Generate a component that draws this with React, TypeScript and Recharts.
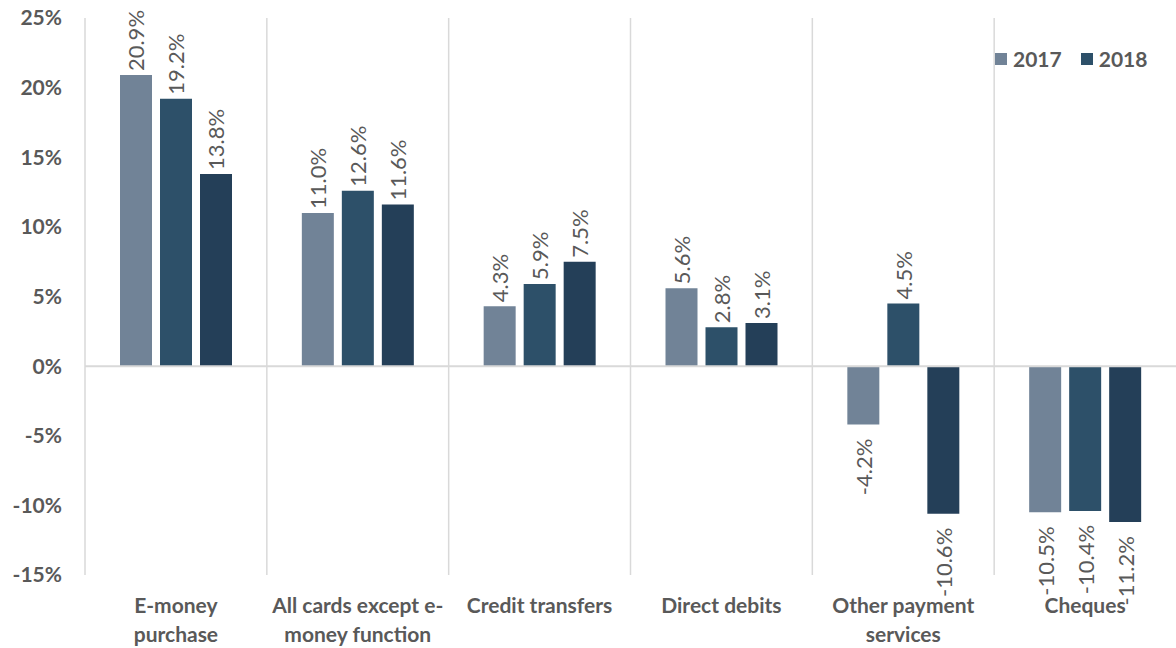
import { BarChart, Bar, XAxis, YAxis, CartesianGrid, ReferenceLine, Legend } from 'recharts';

const categories = [
  'E-money purchase',
  'All cards except e-money function',
  'Credit transfers',
  'Direct debits',
  'Other payment services',
  'Cheques',
];
const tickLines = [
  ['E-money', 'purchase'],
  ['All cards except e-', 'money function'],
  ['Credit transfers'],
  ['Direct debits'],
  ['Other payment', 'services'],
  ['Cheques'],
];
const series2017 = [20.9, 11.0, 4.3, 5.6, -4.2, -10.5];
const series2018 = [19.2, 12.6, 5.9, 2.8, 4.5, -10.4];
const series3 = [13.8, 11.6, 7.5, 3.1, -10.6, -11.2];
const yTicks = [-15, -10, -5, 0, 5, 10, 15, 20, 25];

const data = categories.map((name, i) => ({
  name,
  y2017: series2017[i],
  y2018: series2018[i],
  y3: series3[i],
}));

const FONT = 'Lato, "Open Sans", sans-serif';
const GREY = '#595959';

const renderLabel = (props: any) => {
  const { x, y, width, height, value } = props;
  const cx = x + width / 2;
  const top = Math.min(y, y + height);
  const bottom = Math.max(y, y + height);
  const pos = value >= 0;
  const ty = pos ? top - 4 : bottom + 14;
  return (
    <text
      x={cx}
      y={ty}
      transform={`rotate(-90 ${cx} ${ty})`}
      textAnchor={pos ? 'start' : 'end'}
      dominantBaseline="central"
      fill={GREY}
      fontSize={22}
      fontFamily={FONT}
    >
      {`${value.toFixed(1)}%`}
    </text>
  );
};

const CategoryTick = (props: any) => {
  const { x, y, index } = props;
  const lines = tickLines[index] || [];
  return (
    <text x={x} y={y} textAnchor="middle" fill={GREY} fontSize={21} fontWeight={700} fontFamily={FONT}>
      {lines.map((l, i) => (
        <tspan key={i} x={x} dy={i === 0 ? 30 : 29}>
          {l}
        </tspan>
      ))}
    </text>
  );
};

const legendItems = [
  { label: '2017', color: '#718397' },
  { label: '2018', color: '#2D5069' },
];

const renderLegend = () => (
  <div style={{ display: 'flex', alignItems: 'center', fontFamily: FONT, fontWeight: 700, fontSize: 21, color: GREY }}>
    {legendItems.map((it) => (
      <div key={it.label} style={{ display: 'flex', alignItems: 'center', marginRight: 19 }}>
        <div style={{ width: 12, height: 12, background: it.color, marginRight: 6 }} />
        <span>{it.label}</span>
      </div>
    ))}
  </div>
);

const App = () => {
  return (
    <div style={{ position: 'absolute', left: 0, top: 0, background: '#fff' }}>
      <BarChart
        width={1176}
        height={648}
        data={data}
        margin={{ top: 18, right: 0, left: 0, bottom: 0 }}
        barCategoryGap={35}
        barGap={8}
      >
        <CartesianGrid
          horizontal={false}
          stroke="#d9d9d9"
          strokeWidth={1.5}
          verticalCoordinatesGenerator={({ offset }: any) =>
            categories.slice(1).map((_, i) => offset.left + ((i + 1) * offset.width) / categories.length)
          }
        />
        <XAxis
          dataKey="name"
          axisLine={false}
          tickLine={false}
          height={73}
          interval={0}
          tick={<CategoryTick />}
        />
        <YAxis
          width={85}
          domain={[-15, 25]}
          ticks={yTicks}
          interval={0}
          tickFormatter={(v) => `${v}%`}
          axisLine={{ stroke: '#d9d9d9', strokeWidth: 1.5 }}
          tickLine={false}
          tickSize={0}
          tickMargin={23}
          tick={{ fill: GREY, fontSize: 21, fontWeight: 700, fontFamily: FONT }}
        />
        <ReferenceLine y={0} stroke="#d9d9d9" strokeWidth={2} />
        <Legend
          layout="horizontal"
          verticalAlign="middle"
          align="center"
          wrapperStyle={{ top: 46, left: 995, width: 181 }}
          content={renderLegend}
        />
        <Bar dataKey="y2017" name="2017" fill="#718397" isAnimationActive={false} label={renderLabel} />
        <Bar dataKey="y2018" name="2018" fill="#2D5069" isAnimationActive={false} label={renderLabel} />
        <Bar dataKey="y3" name="" legendType="none" fill="#243F58" isAnimationActive={false} label={renderLabel} />
      </BarChart>
    </div>
  );
};

export default App;
